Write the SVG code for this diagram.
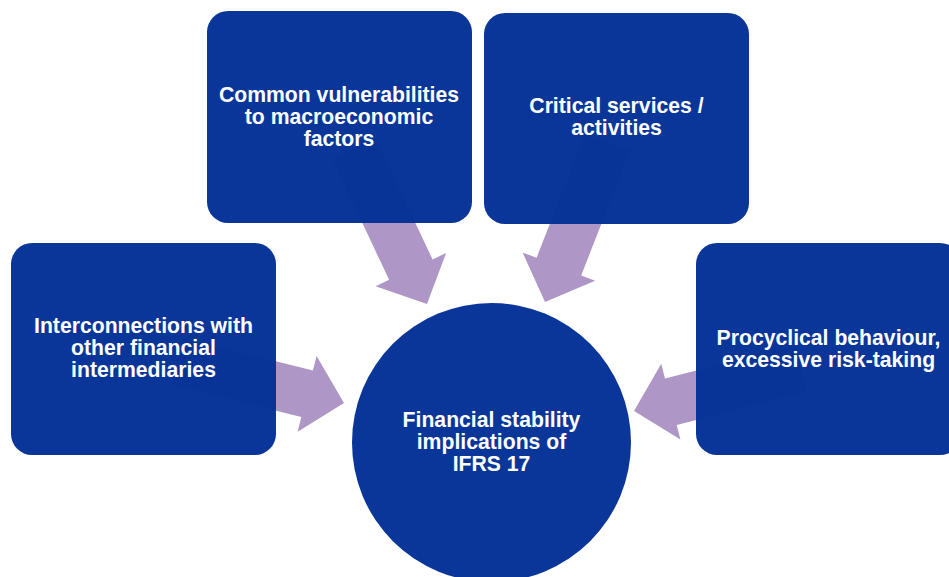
<svg xmlns="http://www.w3.org/2000/svg" width="949" height="577" viewBox="0 0 949 577">
  <defs>
    <style>
      .box { fill: #022F96; fill-opacity: 0.97; }
      .hub { fill: #0A3699; }
      .arrow { fill: #AE97C6; }
      .label { fill: #FFFFFF; font-family: "Liberation Sans", Arial, sans-serif; font-weight: bold; font-size: 21.2px; text-anchor: middle; }
    </style>
    <!-- block arrow pointing along +x, tip at the origin -->
    <polygon id="blockArrow" points="-172,-24 -38,-24 -38,-39 0,0 -38,39 -38,24 -172,24"/>
  </defs>

  <rect width="949" height="577" fill="#FFFFFF"/>

  <g id="connectors">
    <use href="#blockArrow" class="arrow" transform="translate(427,304) rotate(64.8)"/>
    <use href="#blockArrow" class="arrow" transform="translate(545,302) rotate(111.4)"/>
    <use href="#blockArrow" class="arrow" transform="translate(344,403) rotate(14)"/>
    <use href="#blockArrow" class="arrow" transform="translate(634,411) rotate(165.8)"/>
  </g>

  <g id="node-vulnerabilities">
    <rect class="box" x="207" y="11" width="265" height="212" rx="21"/>
    <text class="label" x="339" y="102">Common vulnerabilities</text>
    <text class="label" x="339" y="124">to macroeconomic</text>
    <text class="label" x="339" y="146">factors</text>
  </g>

  <g id="node-critical-services">
    <rect class="box" x="484" y="13" width="265" height="211" rx="21"/>
    <text class="label" x="616.5" y="113">Critical services /</text>
    <text class="label" x="616.5" y="135">activities</text>
  </g>

  <g id="node-interconnections">
    <rect class="box" x="11" y="243" width="265" height="212" rx="21"/>
    <text class="label" x="143.5" y="333">Interconnections with</text>
    <text class="label" x="143.5" y="355">other financial</text>
    <text class="label" x="143.5" y="377">intermediaries</text>
  </g>

  <g id="node-procyclical">
    <rect class="box" x="696" y="243" width="265" height="212" rx="21"/>
    <text class="label" x="828.5" y="345">Procyclical behaviour,</text>
    <text class="label" x="828.5" y="367">excessive risk-taking</text>
  </g>

  <g id="node-financial-stability">
    <circle class="hub" cx="491.5" cy="442.5" r="139.5"/>
    <text class="label" x="491.5" y="427">Financial stability</text>
    <text class="label" x="491.5" y="449">implications of</text>
    <text class="label" x="491.5" y="471">IFRS 17</text>
  </g>
</svg>
